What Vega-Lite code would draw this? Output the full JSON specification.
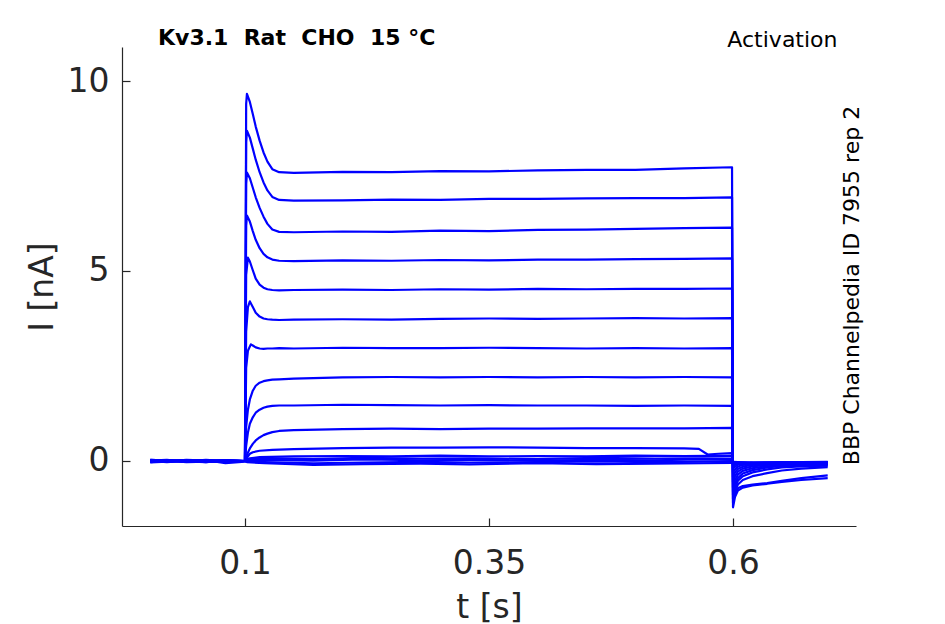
{
  "$schema": "https://vega.github.io/schema/vega-lite/v6.json",
  "width": 734,
  "height": 479,
  "autosize": {"type": "none"},
  "padding": {"left": 122, "top": 47, "right": 89, "bottom": 98},
  "background": "white",
  "title": {
    "text": "Kv3.1\u00a0\u00a0Rat\u00a0\u00a0CHO\u00a0\u00a015\u00a0°C",
    "anchor": "start",
    "frame": "group",
    "dx": 36,
    "offset": -39,
    "baseline": "alphabetic",
    "font": "DejaVu Sans",
    "fontSize": 22,
    "fontWeight": "bold",
    "color": "#000000"
  },
  "data": {
    "values": [
      {"s":1,"t":0.003,"i":0.01},{"s":1,"t":0.02,"i":-0.01},{"s":1,"t":0.04,"i":0.02},{"s":1,"t":0.06,"i":-0.02},{"s":1,"t":0.08,"i":0.0},{"s":1,"t":0.1,"i":0.0},
      {"s":1,"t":0.1012,"i":9.4},{"s":1,"t":0.102,"i":9.66},{"s":1,"t":0.105,"i":9.45},{"s":1,"t":0.108,"i":9.13},{"s":1,"t":0.111,"i":8.8},{"s":1,"t":0.115,"i":8.43},{"s":1,"t":0.119,"i":8.12},{"s":1,"t":0.123,"i":7.88},{"s":1,"t":0.128,"i":7.68},{"s":1,"t":0.135,"i":7.6},{"s":1,"t":0.15,"i":7.58},{"s":1,"t":0.2,"i":7.61},{"s":1,"t":0.25,"i":7.6},{"s":1,"t":0.3,"i":7.63},{"s":1,"t":0.35,"i":7.62},{"s":1,"t":0.4,"i":7.65},{"s":1,"t":0.45,"i":7.66},{"s":1,"t":0.5,"i":7.66},{"s":1,"t":0.55,"i":7.7},{"s":1,"t":0.599,"i":7.73},
      {"s":1,"t":0.6,"i":-1.22},{"s":1,"t":0.602,"i":-0.95},{"s":1,"t":0.605,"i":-0.78},{"s":1,"t":0.61,"i":-0.7},{"s":1,"t":0.62,"i":-0.64},{"s":1,"t":0.635,"i":-0.6},{"s":1,"t":0.65,"i":-0.55},{"s":1,"t":0.67,"i":-0.5},{"s":1,"t":0.697,"i":-0.45},

      {"s":2,"t":0.003,"i":-0.02},{"s":2,"t":0.02,"i":0.01},{"s":2,"t":0.04,"i":0.0},{"s":2,"t":0.06,"i":0.02},{"s":2,"t":0.08,"i":-0.01},{"s":2,"t":0.1,"i":0.0},
      {"s":2,"t":0.1012,"i":8.4},{"s":2,"t":0.102,"i":8.69},{"s":2,"t":0.105,"i":8.51},{"s":2,"t":0.108,"i":8.22},{"s":2,"t":0.111,"i":7.93},{"s":2,"t":0.115,"i":7.6},{"s":2,"t":0.119,"i":7.33},{"s":2,"t":0.123,"i":7.12},{"s":2,"t":0.128,"i":6.95},{"s":2,"t":0.135,"i":6.87},{"s":2,"t":0.15,"i":6.85},{"s":2,"t":0.2,"i":6.86},{"s":2,"t":0.25,"i":6.88},{"s":2,"t":0.3,"i":6.87},{"s":2,"t":0.35,"i":6.9},{"s":2,"t":0.4,"i":6.9},{"s":2,"t":0.45,"i":6.91},{"s":2,"t":0.5,"i":6.92},{"s":2,"t":0.55,"i":6.92},{"s":2,"t":0.599,"i":6.94},
      {"s":2,"t":0.6,"i":-1.1},{"s":2,"t":0.602,"i":-0.85},{"s":2,"t":0.605,"i":-0.72},{"s":2,"t":0.61,"i":-0.66},{"s":2,"t":0.62,"i":-0.62},{"s":2,"t":0.635,"i":-0.58},{"s":2,"t":0.65,"i":-0.52},{"s":2,"t":0.67,"i":-0.45},{"s":2,"t":0.697,"i":-0.38},

      {"s":3,"t":0.003,"i":0.02},{"s":3,"t":0.02,"i":0.0},{"s":3,"t":0.04,"i":-0.02},{"s":3,"t":0.06,"i":0.01},{"s":3,"t":0.08,"i":0.02},{"s":3,"t":0.1,"i":0.0},
      {"s":3,"t":0.1012,"i":7.3},{"s":3,"t":0.102,"i":7.59},{"s":3,"t":0.105,"i":7.44},{"s":3,"t":0.108,"i":7.19},{"s":3,"t":0.111,"i":6.94},{"s":3,"t":0.115,"i":6.66},{"s":3,"t":0.119,"i":6.43},{"s":3,"t":0.123,"i":6.24},{"s":3,"t":0.128,"i":6.09},{"s":3,"t":0.135,"i":6.03},{"s":3,"t":0.15,"i":6.02},{"s":3,"t":0.2,"i":6.04},{"s":3,"t":0.25,"i":6.03},{"s":3,"t":0.3,"i":6.06},{"s":3,"t":0.35,"i":6.05},{"s":3,"t":0.4,"i":6.08},{"s":3,"t":0.45,"i":6.09},{"s":3,"t":0.5,"i":6.11},{"s":3,"t":0.55,"i":6.13},{"s":3,"t":0.599,"i":6.14},
      {"s":3,"t":0.6,"i":-1.0},{"s":3,"t":0.602,"i":-0.8},{"s":3,"t":0.605,"i":-0.62},{"s":3,"t":0.61,"i":-0.5},{"s":3,"t":0.62,"i":-0.4},{"s":3,"t":0.635,"i":-0.32},{"s":3,"t":0.65,"i":-0.25},{"s":3,"t":0.67,"i":-0.2},{"s":3,"t":0.697,"i":-0.16},

      {"s":4,"t":0.003,"i":0.0},{"s":4,"t":0.02,"i":0.02},{"s":4,"t":0.04,"i":0.01},{"s":4,"t":0.06,"i":-0.03},{"s":4,"t":0.08,"i":0.01},{"s":4,"t":0.1,"i":0.0},
      {"s":4,"t":0.1012,"i":6.2},{"s":4,"t":0.102,"i":6.46},{"s":4,"t":0.105,"i":6.3},{"s":4,"t":0.108,"i":6.05},{"s":4,"t":0.111,"i":5.82},{"s":4,"t":0.115,"i":5.6},{"s":4,"t":0.119,"i":5.45},{"s":4,"t":0.123,"i":5.36},{"s":4,"t":0.128,"i":5.3},{"s":4,"t":0.135,"i":5.27},{"s":4,"t":0.15,"i":5.26},{"s":4,"t":0.2,"i":5.28},{"s":4,"t":0.25,"i":5.27},{"s":4,"t":0.3,"i":5.29},{"s":4,"t":0.35,"i":5.28},{"s":4,"t":0.4,"i":5.3},{"s":4,"t":0.45,"i":5.3},{"s":4,"t":0.5,"i":5.31},{"s":4,"t":0.55,"i":5.32},{"s":4,"t":0.599,"i":5.33},
      {"s":4,"t":0.6,"i":-0.9},{"s":4,"t":0.602,"i":-0.7},{"s":4,"t":0.605,"i":-0.52},{"s":4,"t":0.61,"i":-0.4},{"s":4,"t":0.62,"i":-0.3},{"s":4,"t":0.635,"i":-0.22},{"s":4,"t":0.65,"i":-0.17},{"s":4,"t":0.67,"i":-0.14},{"s":4,"t":0.697,"i":-0.12},

      {"s":5,"t":0.003,"i":-0.01},{"s":5,"t":0.02,"i":-0.02},{"s":5,"t":0.04,"i":0.02},{"s":5,"t":0.06,"i":0.0},{"s":5,"t":0.08,"i":-0.02},{"s":5,"t":0.1,"i":0.0},
      {"s":5,"t":0.1012,"i":4.9},{"s":5,"t":0.103,"i":5.35},{"s":5,"t":0.105,"i":5.25},{"s":5,"t":0.108,"i":5.02},{"s":5,"t":0.111,"i":4.8},{"s":5,"t":0.115,"i":4.64},{"s":5,"t":0.119,"i":4.56},{"s":5,"t":0.123,"i":4.52},{"s":5,"t":0.128,"i":4.5},{"s":5,"t":0.135,"i":4.49},{"s":5,"t":0.15,"i":4.5},{"s":5,"t":0.2,"i":4.51},{"s":5,"t":0.25,"i":4.5},{"s":5,"t":0.3,"i":4.52},{"s":5,"t":0.35,"i":4.51},{"s":5,"t":0.4,"i":4.53},{"s":5,"t":0.45,"i":4.52},{"s":5,"t":0.5,"i":4.53},{"s":5,"t":0.55,"i":4.53},{"s":5,"t":0.599,"i":4.54},
      {"s":5,"t":0.6,"i":-0.8},{"s":5,"t":0.602,"i":-0.6},{"s":5,"t":0.605,"i":-0.45},{"s":5,"t":0.61,"i":-0.33},{"s":5,"t":0.62,"i":-0.24},{"s":5,"t":0.635,"i":-0.17},{"s":5,"t":0.65,"i":-0.13},{"s":5,"t":0.67,"i":-0.11},{"s":5,"t":0.697,"i":-0.1},

      {"s":6,"t":0.003,"i":0.03},{"s":6,"t":0.02,"i":0.01},{"s":6,"t":0.04,"i":-0.01},{"s":6,"t":0.06,"i":0.02},{"s":6,"t":0.08,"i":0.0},{"s":6,"t":0.1,"i":0.0},
      {"s":6,"t":0.1012,"i":3.4},{"s":6,"t":0.103,"i":4.05},{"s":6,"t":0.105,"i":4.2},{"s":6,"t":0.108,"i":4.05},{"s":6,"t":0.111,"i":3.9},{"s":6,"t":0.115,"i":3.8},{"s":6,"t":0.119,"i":3.75},{"s":6,"t":0.123,"i":3.73},{"s":6,"t":0.128,"i":3.72},{"s":6,"t":0.135,"i":3.71},{"s":6,"t":0.15,"i":3.72},{"s":6,"t":0.2,"i":3.73},{"s":6,"t":0.25,"i":3.72},{"s":6,"t":0.3,"i":3.74},{"s":6,"t":0.35,"i":3.75},{"s":6,"t":0.4,"i":3.74},{"s":6,"t":0.45,"i":3.75},{"s":6,"t":0.5,"i":3.76},{"s":6,"t":0.55,"i":3.75},{"s":6,"t":0.599,"i":3.76},
      {"s":6,"t":0.6,"i":-0.7},{"s":6,"t":0.602,"i":-0.5},{"s":6,"t":0.605,"i":-0.36},{"s":6,"t":0.61,"i":-0.26},{"s":6,"t":0.62,"i":-0.19},{"s":6,"t":0.635,"i":-0.14},{"s":6,"t":0.65,"i":-0.11},{"s":6,"t":0.67,"i":-0.09},{"s":6,"t":0.697,"i":-0.08},

      {"s":7,"t":0.003,"i":-0.03},{"s":7,"t":0.02,"i":0.0},{"s":7,"t":0.04,"i":0.01},{"s":7,"t":0.06,"i":-0.01},{"s":7,"t":0.08,"i":0.02},{"s":7,"t":0.1,"i":0.0},
      {"s":7,"t":0.1012,"i":2.45},{"s":7,"t":0.103,"i":2.9},{"s":7,"t":0.106,"i":3.07},{"s":7,"t":0.108,"i":3.04},{"s":7,"t":0.111,"i":2.99},{"s":7,"t":0.115,"i":2.96},{"s":7,"t":0.119,"i":2.95},{"s":7,"t":0.123,"i":2.96},{"s":7,"t":0.128,"i":2.96},{"s":7,"t":0.135,"i":2.97},{"s":7,"t":0.15,"i":2.96},{"s":7,"t":0.2,"i":2.98},{"s":7,"t":0.25,"i":2.97},{"s":7,"t":0.3,"i":2.97},{"s":7,"t":0.35,"i":2.98},{"s":7,"t":0.4,"i":2.97},{"s":7,"t":0.45,"i":2.96},{"s":7,"t":0.5,"i":2.97},{"s":7,"t":0.55,"i":2.96},{"s":7,"t":0.599,"i":2.97},
      {"s":7,"t":0.6,"i":-0.55},{"s":7,"t":0.602,"i":-0.4},{"s":7,"t":0.605,"i":-0.28},{"s":7,"t":0.61,"i":-0.2},{"s":7,"t":0.62,"i":-0.14},{"s":7,"t":0.635,"i":-0.1},{"s":7,"t":0.65,"i":-0.08},{"s":7,"t":0.67,"i":-0.06},{"s":7,"t":0.697,"i":-0.05},

      {"s":8,"t":0.003,"i":0.01},{"s":8,"t":0.02,"i":0.03},{"s":8,"t":0.04,"i":-0.02},{"s":8,"t":0.06,"i":0.0},{"s":8,"t":0.08,"i":-0.01},{"s":8,"t":0.1,"i":0.0},
      {"s":8,"t":0.1012,"i":0.9},{"s":8,"t":0.103,"i":1.35},{"s":8,"t":0.105,"i":1.62},{"s":8,"t":0.108,"i":1.85},{"s":8,"t":0.111,"i":1.98},{"s":8,"t":0.115,"i":2.06},{"s":8,"t":0.119,"i":2.1},{"s":8,"t":0.123,"i":2.12},{"s":8,"t":0.128,"i":2.14},{"s":8,"t":0.135,"i":2.15},{"s":8,"t":0.15,"i":2.17},{"s":8,"t":0.2,"i":2.2},{"s":8,"t":0.25,"i":2.21},{"s":8,"t":0.3,"i":2.2},{"s":8,"t":0.35,"i":2.21},{"s":8,"t":0.4,"i":2.2},{"s":8,"t":0.45,"i":2.21},{"s":8,"t":0.5,"i":2.2},{"s":8,"t":0.55,"i":2.21},{"s":8,"t":0.599,"i":2.2},
      {"s":8,"t":0.6,"i":-0.42},{"s":8,"t":0.602,"i":-0.3},{"s":8,"t":0.605,"i":-0.21},{"s":8,"t":0.61,"i":-0.15},{"s":8,"t":0.62,"i":-0.1},{"s":8,"t":0.635,"i":-0.07},{"s":8,"t":0.65,"i":-0.05},{"s":8,"t":0.67,"i":-0.04},{"s":8,"t":0.697,"i":-0.04},

      {"s":9,"t":0.003,"i":0.0},{"s":9,"t":0.02,"i":-0.01},{"s":9,"t":0.04,"i":0.03},{"s":9,"t":0.06,"i":0.01},{"s":9,"t":0.08,"i":-0.03},{"s":9,"t":0.1,"i":0.0},
      {"s":9,"t":0.1012,"i":0.4},{"s":9,"t":0.103,"i":0.75},{"s":9,"t":0.105,"i":0.98},{"s":9,"t":0.108,"i":1.15},{"s":9,"t":0.111,"i":1.27},{"s":9,"t":0.115,"i":1.35},{"s":9,"t":0.119,"i":1.4},{"s":9,"t":0.123,"i":1.43},{"s":9,"t":0.128,"i":1.45},{"s":9,"t":0.135,"i":1.46},{"s":9,"t":0.15,"i":1.46},{"s":9,"t":0.2,"i":1.48},{"s":9,"t":0.25,"i":1.47},{"s":9,"t":0.3,"i":1.46},{"s":9,"t":0.35,"i":1.47},{"s":9,"t":0.4,"i":1.46},{"s":9,"t":0.45,"i":1.46},{"s":9,"t":0.5,"i":1.45},{"s":9,"t":0.55,"i":1.46},{"s":9,"t":0.599,"i":1.45},
      {"s":9,"t":0.6,"i":-0.3},{"s":9,"t":0.602,"i":-0.22},{"s":9,"t":0.605,"i":-0.15},{"s":9,"t":0.61,"i":-0.1},{"s":9,"t":0.62,"i":-0.07},{"s":9,"t":0.635,"i":-0.05},{"s":9,"t":0.65,"i":-0.04},{"s":9,"t":0.67,"i":-0.03},{"s":9,"t":0.697,"i":-0.03},

      {"s":10,"t":0.003,"i":0.02},{"s":10,"t":0.02,"i":-0.02},{"s":10,"t":0.04,"i":0.0},{"s":10,"t":0.06,"i":-0.02},{"s":10,"t":0.08,"i":0.01},{"s":10,"t":0.1,"i":0.0},
      {"s":10,"t":0.1012,"i":0.1},{"s":10,"t":0.103,"i":0.22},{"s":10,"t":0.105,"i":0.33},{"s":10,"t":0.108,"i":0.45},{"s":10,"t":0.111,"i":0.54},{"s":10,"t":0.115,"i":0.62},{"s":10,"t":0.119,"i":0.68},{"s":10,"t":0.123,"i":0.72},{"s":10,"t":0.128,"i":0.76},{"s":10,"t":0.135,"i":0.79},{"s":10,"t":0.15,"i":0.81},{"s":10,"t":0.2,"i":0.84},{"s":10,"t":0.25,"i":0.85},{"s":10,"t":0.3,"i":0.84},{"s":10,"t":0.35,"i":0.85},{"s":10,"t":0.4,"i":0.85},{"s":10,"t":0.45,"i":0.86},{"s":10,"t":0.5,"i":0.86},{"s":10,"t":0.55,"i":0.86},{"s":10,"t":0.599,"i":0.87},
      {"s":10,"t":0.6,"i":-0.2},{"s":10,"t":0.602,"i":-0.15},{"s":10,"t":0.605,"i":-0.1},{"s":10,"t":0.61,"i":-0.07},{"s":10,"t":0.62,"i":-0.05},{"s":10,"t":0.635,"i":-0.04},{"s":10,"t":0.65,"i":-0.03},{"s":10,"t":0.67,"i":-0.03},{"s":10,"t":0.697,"i":-0.02},

      {"s":11,"t":0.003,"i":-0.02},{"s":11,"t":0.02,"i":0.02},{"s":11,"t":0.04,"i":-0.01},{"s":11,"t":0.06,"i":0.03},{"s":11,"t":0.08,"i":0.0},{"s":11,"t":0.1,"i":0.0},
      {"s":11,"t":0.1012,"i":0.05},{"s":11,"t":0.103,"i":0.12},{"s":11,"t":0.105,"i":0.19},{"s":11,"t":0.108,"i":0.23},{"s":11,"t":0.115,"i":0.27},{"s":11,"t":0.128,"i":0.29},{"s":11,"t":0.15,"i":0.31},{"s":11,"t":0.2,"i":0.34},{"s":11,"t":0.25,"i":0.35},{"s":11,"t":0.3,"i":0.35},{"s":11,"t":0.35,"i":0.36},{"s":11,"t":0.4,"i":0.35},{"s":11,"t":0.45,"i":0.34},{"s":11,"t":0.5,"i":0.34},{"s":11,"t":0.55,"i":0.33},{"s":11,"t":0.565,"i":0.32},{"s":11,"t":0.574,"i":0.17},{"s":11,"t":0.585,"i":0.19},{"s":11,"t":0.599,"i":0.21},
      {"s":11,"t":0.6,"i":-0.12},{"s":11,"t":0.602,"i":-0.1},{"s":11,"t":0.605,"i":-0.08},{"s":11,"t":0.61,"i":-0.06},{"s":11,"t":0.62,"i":-0.05},{"s":11,"t":0.635,"i":-0.04},{"s":11,"t":0.65,"i":-0.04},{"s":11,"t":0.67,"i":-0.03},{"s":11,"t":0.697,"i":-0.03},

      {"s":12,"t":0.003,"i":0.01},{"s":12,"t":0.02,"i":0.0},{"s":12,"t":0.04,"i":0.02},{"s":12,"t":0.06,"i":-0.01},{"s":12,"t":0.08,"i":-0.02},{"s":12,"t":0.1,"i":0.0},
      {"s":12,"t":0.102,"i":0.04},{"s":12,"t":0.105,"i":0.07},{"s":12,"t":0.115,"i":0.1},{"s":12,"t":0.15,"i":0.12},{"s":12,"t":0.2,"i":0.13},{"s":12,"t":0.25,"i":0.12},{"s":12,"t":0.3,"i":0.14},{"s":12,"t":0.35,"i":0.12},{"s":12,"t":0.4,"i":0.13},{"s":12,"t":0.45,"i":0.12},{"s":12,"t":0.5,"i":0.14},{"s":12,"t":0.55,"i":0.13},{"s":12,"t":0.599,"i":0.14},
      {"s":12,"t":0.6,"i":-0.08},{"s":12,"t":0.605,"i":-0.06},{"s":12,"t":0.62,"i":-0.05},{"s":12,"t":0.65,"i":-0.05},{"s":12,"t":0.697,"i":-0.04},

      {"s":13,"t":0.003,"i":-0.04},{"s":13,"t":0.02,"i":-0.02},{"s":13,"t":0.04,"i":0.0},{"s":13,"t":0.06,"i":0.01},{"s":13,"t":0.08,"i":0.02},{"s":13,"t":0.1,"i":0.0},
      {"s":13,"t":0.102,"i":0.04},{"s":13,"t":0.12,"i":0.07},{"s":13,"t":0.17,"i":0.05},{"s":13,"t":0.22,"i":0.08},{"s":13,"t":0.28,"i":0.06},{"s":13,"t":0.33,"i":0.07},{"s":13,"t":0.4,"i":0.05},{"s":13,"t":0.46,"i":0.08},{"s":13,"t":0.52,"i":0.06},{"s":13,"t":0.57,"i":0.07},{"s":13,"t":0.599,"i":0.06},
      {"s":13,"t":0.6,"i":-0.06},{"s":13,"t":0.605,"i":-0.05},{"s":13,"t":0.62,"i":-0.06},{"s":13,"t":0.65,"i":-0.07},{"s":13,"t":0.697,"i":-0.08},

      {"s":14,"t":0.003,"i":0.03},{"s":14,"t":0.02,"i":0.01},{"s":14,"t":0.04,"i":-0.03},{"s":14,"t":0.06,"i":-0.02},{"s":14,"t":0.08,"i":0.01},{"s":14,"t":0.1,"i":0.0},
      {"s":14,"t":0.102,"i":0.02},{"s":14,"t":0.12,"i":0.03},{"s":14,"t":0.17,"i":0.01},{"s":14,"t":0.22,"i":0.04},{"s":14,"t":0.28,"i":0.02},{"s":14,"t":0.33,"i":0.03},{"s":14,"t":0.4,"i":0.01},{"s":14,"t":0.46,"i":0.03},{"s":14,"t":0.52,"i":0.02},{"s":14,"t":0.57,"i":0.04},{"s":14,"t":0.599,"i":0.03},
      {"s":14,"t":0.6,"i":-0.04},{"s":14,"t":0.605,"i":-0.03},{"s":14,"t":0.62,"i":-0.05},{"s":14,"t":0.65,"i":-0.06},{"s":14,"t":0.697,"i":-0.06},

      {"s":15,"t":0.003,"i":0.0},{"s":15,"t":0.02,"i":-0.03},{"s":15,"t":0.04,"i":0.01},{"s":15,"t":0.06,"i":0.02},{"s":15,"t":0.08,"i":-0.06},{"s":15,"t":0.1,"i":-0.02},
      {"s":15,"t":0.102,"i":-0.02},{"s":15,"t":0.12,"i":-0.03},{"s":15,"t":0.17,"i":-0.06},{"s":15,"t":0.22,"i":-0.04},{"s":15,"t":0.28,"i":-0.02},{"s":15,"t":0.33,"i":-0.04},{"s":15,"t":0.4,"i":-0.03},{"s":15,"t":0.46,"i":-0.01},{"s":15,"t":0.52,"i":-0.03},{"s":15,"t":0.57,"i":-0.02},{"s":15,"t":0.599,"i":-0.01},
      {"s":15,"t":0.6,"i":-0.03},{"s":15,"t":0.605,"i":-0.04},{"s":15,"t":0.62,"i":-0.05},{"s":15,"t":0.65,"i":-0.05},{"s":15,"t":0.697,"i":-0.07},

      {"s":16,"t":0.003,"i":-0.02},{"s":16,"t":0.02,"i":0.02},{"s":16,"t":0.04,"i":-0.01},{"s":16,"t":0.06,"i":-0.03},{"s":16,"t":0.08,"i":0.02},{"s":16,"t":0.1,"i":0.0},
      {"s":16,"t":0.102,"i":-0.03},{"s":16,"t":0.12,"i":-0.06},{"s":16,"t":0.17,"i":-0.1},{"s":16,"t":0.22,"i":-0.08},{"s":16,"t":0.28,"i":-0.07},{"s":16,"t":0.33,"i":-0.09},{"s":16,"t":0.4,"i":-0.06},{"s":16,"t":0.46,"i":-0.08},{"s":16,"t":0.52,"i":-0.07},{"s":16,"t":0.57,"i":-0.06},{"s":16,"t":0.599,"i":-0.05},
      {"s":16,"t":0.6,"i":-0.02},{"s":16,"t":0.605,"i":-0.03},{"s":16,"t":0.62,"i":-0.04},{"s":16,"t":0.65,"i":-0.04},{"s":16,"t":0.697,"i":-0.05}
    ]
  },
  "resolve": {"axis": {"x": "independent", "y": "independent"}},
  "layer": [
    {
      "mark": {"type": "line", "color": "#0000ff", "strokeWidth": 2.2, "strokeJoin": "round"},
      "encoding": {
        "x": {
          "field": "t",
          "type": "quantitative",
          "scale": {"domain": [-0.026, 0.726], "nice": false, "zero": false},
          "axis": {
            "orient": "bottom",
            "values": [0.1, 0.35, 0.6],
            "format": ".2~f",
            "title": "t [s]",
            "labelPadding": 29,
            "titleBaseline": "alphabetic",
            "titleY": 91,
            "labelFlush": false,
            "labelOverlap": false
          }
        },
        "y": {
          "field": "i",
          "type": "quantitative",
          "scale": {"domain": [-1.711, 10.895], "nice": false, "zero": false},
          "axis": {
            "orient": "left",
            "values": [0, 5, 10],
            "format": "d",
            "title": "I [nA]",
            "labelPadding": 21,
            "titleBaseline": "alphabetic",
            "titleX": -70,
            "titleY": 239.5
          }
        },
        "detail": {"field": "s", "type": "nominal"}
      }
    },
    {
      "mark": {"type": "point", "opacity": 0},
      "encoding": {
        "x": {
          "field": "t",
          "type": "quantitative",
          "scale": {"domain": [-0.026, 0.726], "nice": false, "zero": false},
          "axis": {
            "orient": "top",
            "domain": false,
            "ticks": false,
            "labels": false,
            "title": "Activation",
            "titleFontSize": 22,
            "titleColor": "#000000",
            "titleBaseline": "alphabetic",
            "titleAlign": "right",
            "titleX": 715,
            "titleY": -1
          }
        },
        "y": {
          "field": "i",
          "type": "quantitative",
          "scale": {"domain": [-1.711, 10.895], "nice": false, "zero": false},
          "axis": {
            "orient": "right",
            "domain": false,
            "ticks": false,
            "labels": false,
            "title": "BBP Channelpedia ID 7955 rep 2",
            "titleFontSize": 22,
            "titleColor": "#000000",
            "titleAngle": 270,
            "titleBaseline": "alphabetic",
            "titleAlign": "center",
            "titleX": 2,
            "titleY": 238
          }
        }
      }
    }
  ],
  "config": {
    "view": {"stroke": null},
    "axis": {
      "grid": false,
      "labelFont": "DejaVu Sans",
      "titleFont": "DejaVu Sans",
      "labelFontSize": 33,
      "titleFontSize": 33,
      "titleFontWeight": "normal",
      "labelColor": "#262626",
      "titleColor": "#262626",
      "domainColor": "#262626",
      "tickColor": "#262626",
      "domainWidth": 1.2,
      "tickWidth": 1.2,
      "tickSize": -8
    }
  }
}
